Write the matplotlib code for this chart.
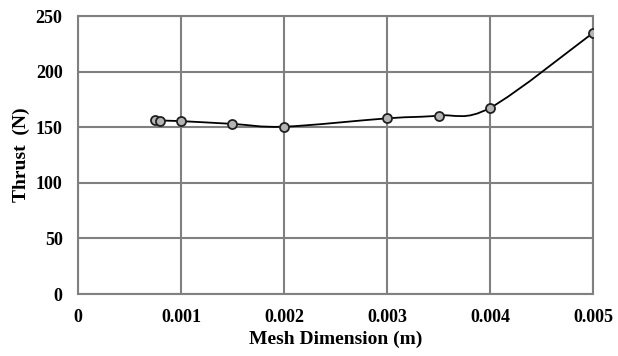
import numpy as np
import matplotlib
matplotlib.use("Agg")
from matplotlib import pyplot as plt
from matplotlib.path import Path
from matplotlib.patches import PathPatch

mesh = [0.00075, 0.0008, 0.001, 0.0015, 0.002, 0.003, 0.0035, 0.004, 0.005]
thrust = [156.5, 156.0, 155.5, 153.0, 150.5, 158.0, 160.5, 167.5, 235.0]
x_ticks = [0, 0.001, 0.002, 0.003, 0.004, 0.005]
x_labels = ['0', '0.001', '0.002', '0.003', '0.004', '0.005']
y_ticks = [0, 50, 100, 150, 200, 250]

plt.rcParams['font.family'] = ['Liberation Serif', 'DejaVu Serif']
plt.rcParams['font.weight'] = 'bold'

def smooth_path(xs, ys):
    # catmull-rom as bezier segments, like a spreadsheet "smoothed line"
    p = np.column_stack([xs, ys])
    pts = np.vstack([p[0], p, p[-1]])
    verts = [p[0]]
    codes = [Path.MOVETO]
    for i in range(1, len(pts) - 2):
        c1 = pts[i] + (pts[i + 1] - pts[i - 1]) / 6.0
        c2 = pts[i + 1] - (pts[i + 2] - pts[i]) / 6.0
        verts += [c1, c2, pts[i + 1]]
        codes += [Path.CURVE4] * 3
    return Path(verts, codes)

fig = plt.figure(figsize=(6.18, 3.56), dpi=100)
ax = fig.add_axes([0.126, 0.174, 0.834, 0.781])

ax.add_patch(PathPatch(smooth_path(mesh, thrust), facecolor='none',
                       edgecolor='black', lw=1.3, zorder=3))
ax.plot(mesh, thrust, ls='none', marker='o', ms=6.5, mfc='#b4b4b4',
        mec='#202020', mew=1.3, zorder=4)

ax.set_xlim(0, 0.005)
ax.set_ylim(0, 250)
ax.set_xticks(x_ticks)
ax.set_xticklabels(x_labels)
ax.set_yticks(y_ticks)
ax.grid(True, color='#808080', lw=1.5)
ax.set_axisbelow(True)
for s in ax.spines.values():
    s.set_color('#808080')
    s.set_linewidth(1.5)
ax.tick_params(length=0, labelsize=13)
ax.tick_params(axis='x', pad=11)
ax.tick_params(axis='y', pad=11)
ax.set_xlabel('Mesh Dimension (m)', fontsize=14, fontweight='bold', labelpad=3)
ax.set_ylabel('Thrust  (N)', fontsize=14, fontweight='bold', labelpad=4)

fig.savefig('out.png', dpi=100)
